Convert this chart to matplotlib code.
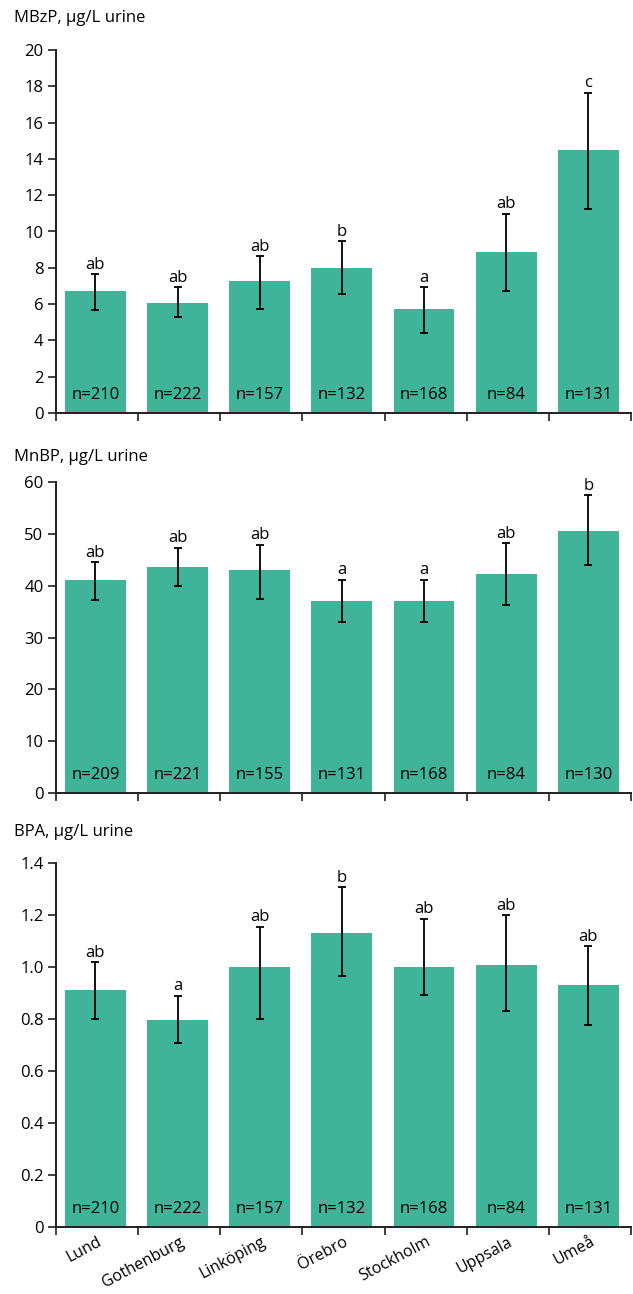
import numpy as np
import matplotlib
matplotlib.use("Agg")
import matplotlib.pyplot as plt

plt.rcParams['font.family'] = ['Open Sans', 'DejaVu Sans']

cities = ["Lund", "Gothenburg", "Linköping", "Örebro", "Stockholm", "Uppsala", "Umeå"]

# MBzP
mbzp_mean = [6.72, 6.06, 7.27, 7.99, 5.73, 8.87, 14.47]
mbzp_lo = [5.67, 5.31, 5.75, 6.57, 4.41, 6.74, 11.24]
mbzp_hi = [7.66, 6.94, 8.65, 9.46, 6.92, 10.98, 17.65]
mbzp_n = [210, 222, 157, 132, 168, 84, 131]
mbzp_grp = ["ab", "ab", "ab", "b", "a", "ab", "c"]

# MnBP
mnbp_mean = [41.1, 43.6, 43.0, 37.0, 37.0, 42.2, 50.5]
mnbp_lo = [37.2, 39.9, 37.5, 32.9, 32.9, 36.3, 43.9]
mnbp_hi = [44.5, 47.3, 47.9, 41.1, 41.1, 48.2, 57.4]
mnbp_n = [209, 221, 155, 131, 168, 84, 130]
mnbp_grp = ["ab", "ab", "ab", "a", "a", "ab", "b"]

# BPA
bpa_mean = [0.911, 0.796, 1.00, 1.13, 1.00, 1.008, 0.931]
bpa_lo = [0.80, 0.709, 0.80, 0.967, 0.892, 0.831, 0.779]
bpa_hi = [1.02, 0.89, 1.156, 1.309, 1.187, 1.201, 1.08]
bpa_n = [210, 222, 157, 132, 168, 84, 131]
bpa_grp = ["ab", "a", "ab", "b", "ab", "ab", "ab"]

panels = [
    ("MBzP, µg/L urine", mbzp_mean, mbzp_lo, mbzp_hi, mbzp_n, mbzp_grp,
     (0, 20), np.arange(0, 21, 2), lambda v: f"{v:g}"),
    ("MnBP, µg/L urine", mnbp_mean, mnbp_lo, mnbp_hi, mnbp_n, mnbp_grp,
     (0, 60), np.arange(0, 61, 10), lambda v: f"{v:g}"),
    ("BPA, µg/L urine", bpa_mean, bpa_lo, bpa_hi, bpa_n, bpa_grp,
     (0, 1.4), np.arange(0, 1.41, 0.2), lambda v: "0" if v == 0 else f"{v:.1f}"),
]

W, H = 633, 1294
fig = plt.figure(figsize=(W / 100, H / 100), dpi=100)

# axes boxes in pixel coordinates: (left, right, top, bottom)
boxes = [(56, 631, 50, 413), (56, 631, 481.7, 793.3), (56, 631, 863.3, 1227)]
title_y = [18, 457, 832]

bar_color = "#40b498"
spine_color = "#231f20"
fs = 12

for (title, mean, lo, hi, n, grp, ylim, yticks, fmt), (l, r, t, b), ty in zip(panels, boxes, title_y):
    ax = fig.add_axes([l / W, 1 - b / H, (r - l) / W, (b - t) / H])
    x = np.arange(len(cities)) + 0.48
    mean = np.array(mean)
    lo = np.array(lo)
    hi = np.array(hi)
    ax.bar(x, mean, width=0.74, color=bar_color, zorder=2)
    ax.errorbar(x, mean, yerr=[mean - lo, hi - mean], fmt="none", ecolor="black",
                elinewidth=1.3, capsize=3.2, capthick=1.3, zorder=3)
    for xi, h, g, ni in zip(x, hi, grp, n):
        ax.annotate(g, (xi, h), xytext=(0, 1), textcoords="offset points",
                    ha="center", va="bottom", fontsize=fs, color="black")
        ax.annotate(f"n={ni}", (xi, 0), xytext=(0, 18), textcoords="offset pixels",
                    ha="center", va="center", fontsize=fs, color="black")
    ax.set_xlim(0, len(cities))
    ax.set_ylim(*ylim)
    ax.set_xticks(np.arange(len(cities) + 1))
    ax.set_xticklabels([])
    ax.set_yticks(yticks)
    ax.set_yticklabels([fmt(v) for v in yticks], fontsize=fs)
    ax.tick_params(axis="both", which="major", direction="out", length=6,
                   width=1.2, color=spine_color, pad=3)
    for s in ("top", "right"):
        ax.spines[s].set_visible(False)
    for s in ("left", "bottom"):
        ax.spines[s].set_color(spine_color)
        ax.spines[s].set_linewidth(1.4)
    ax.patch.set_visible(False)
    fig.text(14 / W, 1 - ty / H, title, fontsize=fs, ha="left", va="center")

# city labels under the last panel
ax.set_xticks(np.arange(len(cities)) + 0.5, cities, minor=True)
ax.tick_params(axis="x", which="minor", length=0, pad=5, labelsize=11.5)
for lab in ax.get_xticklabels(minor=True):
    lab.set_rotation(28)
    lab.set_rotation_mode("anchor")
    lab.set_ha("right")
    lab.set_va("top")

fig.savefig("out.png", dpi=100)
